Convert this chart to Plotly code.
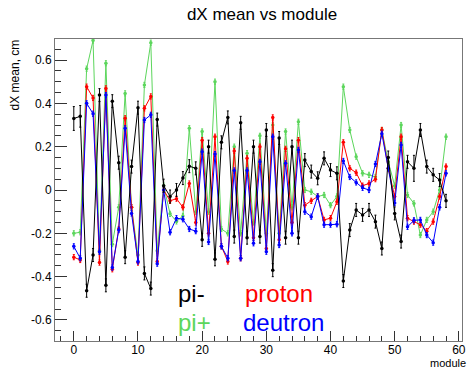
import plotly.graph_objects as go

modules = list(range(59))

pi_minus = [0.33, 0.34, -0.465, -0.30, 0.438, -0.44, 0.41, 0.126, -0.31, 0.108,
            0.38, -0.385, -0.455, 0.325, 0.02, -0.03, 0.0, 0.055, 0.11, 0.10,
            -0.23, 0.20, -0.32, 0.22, 0.335, -0.215, 0.31, -0.22, 0.20, -0.215,
            0.277, -0.37, 0.24, -0.22, 0.20, -0.22, 0.138, 0.085, 0.054, 0.146,
            0.092, 0.077, -0.42, -0.185, -0.092, -0.115, -0.092, -0.146, -0.27, 0.15,
            -0.108, -0.238, 0.13, 0.10, 0.277, 0.108, 0.07, 0.046, -0.05]
pi_minus_err = [0.055, 0.05, 0.03, 0.03, 0.03, 0.03, 0.03, 0.03, 0.03, 0.03,
                0.03, 0.03, 0.03, 0.03, 0.03, 0.03, 0.03, 0.03, 0.03, 0.03,
                0.03, 0.03, 0.03, 0.03, 0.03, 0.03, 0.03, 0.03, 0.03, 0.03,
                0.03, 0.03, 0.03, 0.03, 0.03, 0.03, 0.03, 0.03, 0.03, 0.03,
                0.03, 0.03, 0.03, 0.03, 0.03, 0.03, 0.03, 0.03, 0.03, 0.03,
                0.03, 0.03, 0.03, 0.06, 0.03, 0.03, 0.03, 0.03, 0.03]

pi_plus = [-0.20, -0.195, 0.56, 0.69, -0.28, 0.585, -0.25, -0.08, 0.446, -0.08,
           -0.30, 0.485, 0.68, -0.28, 0.02, -0.11, -0.145, -0.12, 0.285, -0.10,
           0.27, -0.10, 0.50, -0.18, -0.20, 0.20, -0.20, 0.17, -0.15, 0.25,
           -0.20, 0.30, -0.20, 0.27, -0.08, 0.315, 0.0, -0.008, -0.03, -0.023,
           -0.07, -0.03, 0.477, 0.277, 0.154, 0.077, 0.07, 0.06, 0.277, 0.13,
           0.02, 0.30, -0.023, -0.062, -0.208, -0.138, -0.10, 0.0, 0.246]

proton = [-0.31, -0.323, 0.477, 0.425, -0.335, 0.469, -0.366, -0.18, 0.331, -0.08,
          -0.335, 0.377, 0.432, -0.33, 0.0, -0.05, -0.04, -0.08, 0.03, -0.15,
          0.23, -0.20, 0.246, -0.26, -0.33, 0.18, -0.315, 0.146, -0.22, 0.20,
          -0.27, 0.335, -0.23, 0.19, -0.15, 0.23, -0.07, -0.05, -0.03, -0.138,
          -0.13, -0.054, 0.22, 0.10, 0.08, 0.02, 0.03, 0.05, 0.277, 0.10,
          -0.03, 0.246, -0.13, -0.146, -0.16, -0.19, -0.146, -0.03, 0.108]

deutron = [-0.26, -0.315, 0.40, 0.352, -0.285, 0.438, -0.358, -0.185, 0.285, -0.108,
           -0.33, 0.323, 0.347, -0.34, 0.0, -0.195, -0.13, -0.135, -0.18, -0.19,
           0.177, -0.24, 0.166, -0.26, -0.315, 0.09, -0.315, 0.09, -0.246, 0.13,
           -0.285, 0.246, -0.254, 0.123, -0.20, 0.185, -0.10, -0.123, -0.03, -0.16,
           -0.16, -0.158, 0.134, 0.06, 0.035, 0.01, 0.0, 0.12, 0.26, 0.10,
           -0.06, 0.208, -0.17, -0.14, -0.138, -0.208, -0.243, -0.08, 0.077]

col_err = [0.012] * 59

series = [
    ("pi+", pi_plus, col_err, "#5cd65c"),
    ("proton", proton, col_err, "#ff0000"),
    ("deutron", deutron, col_err, "#0000ff"),
    ("pi-", pi_minus, pi_minus_err, "#000000"),
]

fig = go.Figure()
for name, vals, errs, color in series:
    fig.add_trace(go.Scatter(
        x=modules, y=vals, name=name, mode="lines+markers",
        line=dict(color=color, width=1),
        marker=dict(color=color, size=3.5),
        error_y=dict(type="data", array=errs, visible=True, color=color,
                     thickness=1, width=1),
        showlegend=False,
    ))

font_family = "Liberation Sans, Arial, sans-serif"

y_ticks = [-0.6, -0.4, -0.2, 0, 0.2, 0.4, 0.6]
y_labels = ["-0.6", "-0.4", "-0.2", "0", "0.2", "0.4", "0.6"]
x_ticks = [0, 10, 20, 30, 40, 50, 60]
x_labels = ["0", "10", "20", "30", "40", "50", "60"]

fig.update_layout(
    width=473, height=369, autosize=False,
    margin=dict(l=55, r=7, t=39, b=28),
    paper_bgcolor="white", plot_bgcolor="white",
    font=dict(family=font_family, size=12, color="black"),
    title=dict(text="dX mean vs module", x=262/473, xref="container",
               y=1-14/369, yref="container", xanchor="center", yanchor="middle",
               font=dict(size=17, family=font_family, color="black")),
    xaxis=dict(range=[-2.93, 60.49], tickmode="array", tickvals=x_ticks,
               ticktext=x_labels, ticks="inside", ticklen=10, tickwidth=1,
               tickcolor="#333", showgrid=False, zeroline=False,
               showline=True, linecolor="#777", linewidth=1, mirror=True,
               tickfont=dict(size=12), ticklabelstandoff=-2,
               minor=dict(ticks="inside", ticklen=5, dtick=2, tick0=0,
                          tickcolor="#333", showgrid=False)),
    yaxis=dict(range=[-0.697, 0.697], tickmode="array", tickvals=y_ticks,
               ticktext=y_labels, ticks="inside", ticklen=12, tickwidth=1,
               tickcolor="#333", showgrid=False, zeroline=False,
               showline=True, linecolor="#777", linewidth=1, mirror=True,
               tickfont=dict(size=12),
               minor=dict(ticks="inside", ticklen=6, dtick=0.05, tick0=0,
                          tickcolor="#333", showgrid=False)),
)

legend_items = [
    ("pi-", 15.9, -0.48, "#000000"),
    ("proton", 26.4, -0.48, "#ff0000"),
    ("pi+", 15.9, -0.61, "#5cd65c"),
    ("deutron", 26.1, -0.61, "#0000ff"),
]
for text, lx, ly, color in legend_items:
    fig.add_annotation(x=lx, y=ly, xref="x", yref="y", text=text,
                       showarrow=False, xanchor="left", yanchor="middle",
                       font=dict(size=24, color=color, family=font_family))

fig.add_annotation(x=(15-55)/411, y=(341-75)/302, xref="paper", yref="paper",
                   text="dX mean, cm", textangle=-90, showarrow=False,
                   xanchor="center", yanchor="middle", font=dict(size=12))
fig.add_annotation(x=(471-55)/411, y=0, xref="paper", yref="paper",
                   yshift=-22, text="module", showarrow=False, xanchor="right",
                   yanchor="middle", borderpad=0, font=dict(size=11))

fig.write_html("out.html")
